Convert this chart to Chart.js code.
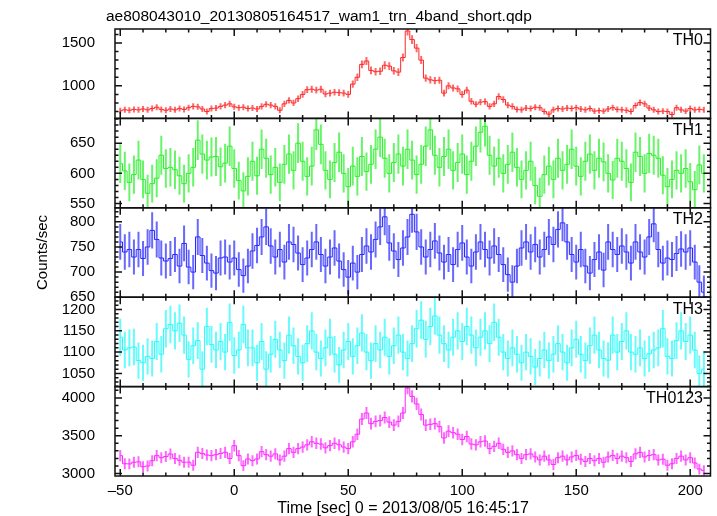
<!DOCTYPE html>
<html>
<head>
<meta charset="utf-8">
<script src="https://cdn.jsdelivr.net/npm/chart.js@4.4.0/dist/chart.umd.min.js"></script>
<style>
  html, body { margin: 0; padding: 0; background: #fff; }
  canvas { display: block; }
</style>
</head>
<body>
<canvas id="lc" width="717" height="516"></canvas>
<script>
const fileTitle = 'ae808043010_20130805164517_wam1_trn_4band_short.qdp';
const xTitle = 'Time [sec] 0 = 2013/08/05 16:45:17';
const yTitle = 'Counts/sec';
const bandNames = ['TH0', 'TH1', 'TH2', 'TH3', 'TH0123'];
const bandColors = ['255,40,40', '40,240,40', '40,40,255', '40,250,250', '255,40,255'];

// light curve bins: center of first bin and bin width [sec]
const binStart = -50;
const binWidth = 2;
const exposure = 0.6; // for poisson error bars

const th0 = [
  710, 720, 715, 725, 720, 730, 720, 735, 750, 725,
  715, 730, 720, 735, 725, 745, 760, 755, 730, 700,
  735, 740, 760, 775, 790, 755, 745, 750, 735, 740,
  730, 760, 785, 775, 760, 715, 790, 830, 800, 850,
  900, 955, 960, 950, 960, 905, 915, 925, 920, 915,
  900, 1020, 1100, 1250, 1290, 1180, 1165, 1170, 1240, 1230,
  1175, 1160, 1330, 1640, 1540, 1440, 1300, 1090, 1070, 1060,
  1065, 915, 1000, 975, 965, 900, 950, 820, 785, 810,
  815, 760, 790, 875, 840, 775, 760, 725, 720, 740,
  735, 750, 745, 700, 670, 720, 735, 730, 740, 735,
  745, 730, 720, 735, 705, 710, 705, 730, 745, 725,
  720, 715, 700, 770, 805, 790, 740, 720, 700, 705,
  700, 665, 745, 720, 705, 735, 720, 725, 720
];
const th1 = [
  616, 604, 585, 598, 622, 590, 567, 583, 592, 630,
  608, 610, 606, 596, 583, 600, 610, 655, 632, 622,
  627, 628, 611, 617, 645, 608, 588, 571, 595, 620,
  596, 640, 625, 598, 610, 585, 615, 632, 605, 650,
  620, 595, 612, 672, 648, 605, 590, 618, 635, 600,
  578, 612, 595, 628, 603, 615, 640, 660, 625, 600,
  618, 632, 612, 640, 622, 598, 615, 645, 672, 630,
  610, 628, 640, 605, 618, 632, 598, 620, 645, 668,
  678, 630, 612, 625, 600, 615, 635, 610, 590, 605,
  620, 580, 562, 598, 612, 590, 625, 605, 615, 640,
  612, 595, 620, 632, 605, 625, 619, 600, 589, 625,
  620, 608, 585, 635, 628, 600, 633, 630, 625, 597,
  578, 590, 605, 600, 608, 586, 573, 614, 600
];
const th2 = [
  760, 740, 745, 730, 745, 727, 750, 783, 765, 728,
  722, 727, 735, 712, 757, 710, 700, 770, 733, 718,
  703, 698, 728, 730, 720, 728, 705, 693, 712, 742,
  753, 770, 790, 752, 730, 745, 720, 760, 755, 738,
  715, 728, 745, 760, 735, 712, 730, 748, 722, 705,
  690, 718, 700, 735, 752, 740, 765, 790, 810, 758,
  742, 725, 748, 770, 815, 780, 750, 730, 745, 762,
  738, 720, 735, 715, 745, 758, 730, 712, 740, 760,
  745, 728, 752, 735, 715, 695, 680, 712, 748, 760,
  740, 755, 730, 745, 770, 755, 785, 798, 760, 735,
  720, 745, 712, 698, 725, 740, 704, 760, 745, 735,
  752, 740, 718, 760, 740, 730, 770, 796, 745, 718,
  728, 725, 737, 746, 740, 748, 720, 680, 660
];
const th3 = [
  1135, 1105, 1110, 1112, 1080, 1075, 1090, 1085, 1125, 1095,
  1155, 1165, 1150, 1168, 1140, 1083, 1115, 1127, 1060, 1160,
  1118, 1105, 1125, 1100, 1170, 1092, 1105, 1165, 1110, 1110,
  1075, 1125, 1060, 1095, 1130, 1105, 1080, 1140, 1115, 1090,
  1075, 1120, 1150, 1100, 1085, 1110, 1135, 1095, 1070, 1105,
  1125, 1090, 1115, 1145, 1100, 1080, 1120, 1105, 1135, 1090,
  1115, 1140, 1100, 1085, 1120, 1155, 1175, 1130, 1160, 1185,
  1140, 1120, 1105, 1135, 1150, 1125, 1160, 1140, 1110, 1135,
  1150, 1120, 1170, 1135, 1100, 1085, 1110, 1095, 1075, 1100,
  1090, 1065, 1085, 1105, 1080, 1095, 1120, 1100, 1075, 1110,
  1130, 1095, 1080, 1115, 1140, 1105, 1085, 1081, 1140, 1100,
  1125, 1150, 1100, 1095, 1110, 1085, 1096, 1105, 1110, 1155,
  1090, 1085, 1127, 1150, 1125, 1140, 1105, 1050, 1060
];
const th0123 = [
  3237, 3130, 3128, 3150, 3155, 3090, 3100, 3170, 3237, 3210,
  3225, 3259, 3200, 3175, 3150, 3150, 3110, 3281, 3265, 3245,
  3237, 3250, 3265, 3281, 3200, 3368, 3237, 3105, 3193, 3171,
  3193, 3290, 3250, 3230, 3260, 3180, 3230, 3330, 3280, 3330,
  3350, 3380, 3420, 3400, 3390, 3340, 3370, 3400, 3380, 3350,
  3330, 3420, 3520, 3720, 3800, 3660, 3690, 3700, 3740, 3680,
  3640, 3690, 3800, 4130, 4020, 3920, 3780, 3640, 3650, 3660,
  3620, 3470, 3560, 3540, 3520, 3450, 3490, 3390, 3380, 3420,
  3430, 3330, 3360, 3400, 3320, 3280, 3300, 3250, 3200, 3250,
  3260, 3220, 3180, 3230, 3180, 3120, 3210, 3230, 3180, 3220,
  3240, 3190, 3160, 3200, 3170, 3200, 3150, 3220, 3240, 3200,
  3230, 3210, 3160, 3260, 3280, 3220, 3240, 3250, 3180, 3190,
  3110, 3130, 3200, 3230, 3180, 3210, 3140, 3060, 3040
];
const bandValues = [th0, th1, th2, th3, th0123];

// axis ranges and ticks
const xRange = [-52.3, 208.9];
const xTickValues = [-50, 0, 50, 100, 150, 200];
const yRanges = [[620, 1663], [543, 691], [650, 828], [1019, 1229], [2968, 4149]];
const yTickValues = [
  [1000, 1500],
  [550, 600, 650],
  [650, 700, 750, 800],
  [1050, 1100, 1150, 1200],
  [3000, 3500, 4000]
];
const yMajorStep = [500, 50, 50, 50, 500];
const yMinorStep = [100, 10, 10, 10, 100];

const fontFamily = '"Liberation Sans", Arial, Helvetica, sans-serif';
const axisId = i => 'y' + i;

const datasets = bandValues.map((vals, i) => ({
  label: bandNames[i],
  yAxisID: axisId(i),
  data: vals.map((v, k) => ({ x: binStart + k * binWidth, y: v, err: Math.sqrt(v / exposure) })),
  borderColor: 'rgb(' + bandColors[i] + ')',
  errColor: 'rgba(' + bandColors[i] + ',0.7)',
  borderWidth: 1,
  stepped: 'middle',
  pointRadius: 0,
  fill: false
}));

function bandAxis(i) {
  return {
    type: 'linear',
    position: 'left',
    stack: 'bands',
    stackWeight: 1,
    min: yRanges[i][0],
    max: yRanges[i][1],
    grid: { display: false, drawTicks: false },
    border: { display: false },
    afterBuildTicks: s => { s.ticks = yTickValues[i].map(v => ({ value: v })); },
    afterFit: s => { s.width = 115; },
    ticks: {
      autoSkip: false,
      padding: 20,
      color: '#000',
      font: { family: fontFamily, size: 15 },
      callback: v => String(v)
    }
  };
}

const scales = {
  x: {
    type: 'linear',
    min: xRange[0],
    max: xRange[1],
    grid: { display: false, drawTicks: false },
    border: { display: false },
    afterBuildTicks: s => { s.ticks = xTickValues.map(v => ({ value: v })); },
    afterFit: s => { s.height = 40; },
    ticks: {
      autoSkip: false,
      maxRotation: 0,
      padding: 6,
      color: '#000',
      font: { family: fontFamily, size: 15 },
      callback: v => (v < 0 ? '\u2013' + Math.abs(v) : String(v))
    }
  }
};
// stacked axes are laid out bottom-up in definition order, so add the last band first
for (let i = bandNames.length - 1; i >= 0; i--) scales[axisId(i)] = bandAxis(i);

// clip each band to its own panel, draw error bars, frames, inward ticks and labels
const panelPlugin = {
  id: 'panelPlugin',
  beforeDatasetDraw(chart, args) {
    const ds = chart.data.datasets[args.index];
    const ys = chart.scales[ds.yAxisID];
    const ctx = chart.ctx;
    const area = chart.chartArea;
    ctx.save();
    ctx.beginPath();
    ctx.rect(area.left, ys.top, area.right - area.left, ys.bottom - ys.top);
    ctx.clip();
    ctx.strokeStyle = ds.errColor;
    ctx.lineWidth = 2;
    ctx.beginPath();
    args.meta.data.forEach((pt, k) => {
      const d = ds.data[k];
      ctx.moveTo(pt.x, ys.getPixelForValue(d.y + d.err));
      ctx.lineTo(pt.x, ys.getPixelForValue(d.y - d.err));
    });
    ctx.stroke();
  },
  afterDatasetDraw(chart) {
    chart.ctx.restore();
  },
  afterDraw(chart) {
    const ctx = chart.ctx;
    const area = chart.chartArea;
    const xs = chart.scales.x;
    ctx.save();
    ctx.strokeStyle = '#111';
    ctx.lineWidth = 1.5;
    bandNames.forEach((name, i) => {
      const ys = chart.scales[axisId(i)];
      ctx.strokeRect(area.left, ys.top, area.right - area.left, ys.bottom - ys.top);
      ctx.beginPath();
      // x ticks on top and bottom of each panel
      for (let v = Math.ceil(xRange[0] / 10) * 10; v <= xRange[1]; v += 10) {
        const px = xs.getPixelForValue(v);
        const len = v % 50 === 0 ? 7 : 3.5;
        ctx.moveTo(px, ys.top); ctx.lineTo(px, ys.top + len);
        ctx.moveTo(px, ys.bottom); ctx.lineTo(px, ys.bottom - len);
      }
      // y ticks on left and right
      const [lo, hi] = yRanges[i];
      for (let v = Math.ceil(lo / yMinorStep[i]) * yMinorStep[i]; v <= hi; v += yMinorStep[i]) {
        const py = ys.getPixelForValue(v);
        const len = v % yMajorStep[i] === 0 ? 7 : 3.5;
        ctx.moveTo(area.left, py); ctx.lineTo(area.left + len, py);
        ctx.moveTo(area.right, py); ctx.lineTo(area.right - len, py);
      }
      ctx.stroke();
      ctx.fillStyle = '#000';
      ctx.font = '16px ' + fontFamily;
      ctx.textAlign = 'right';
      ctx.textBaseline = 'top';
      ctx.fillText(name, 703, ys.top + 4);
    });
    ctx.fillStyle = '#000';
    ctx.font = '15.5px ' + fontFamily;
    ctx.textAlign = 'left';
    ctx.textBaseline = 'alphabetic';
    ctx.fillText(fileTitle, 106, 21);
    ctx.textAlign = 'center';
    ctx.font = '16px ' + fontFamily;
    ctx.fillText(xTitle, 403, 513);
    ctx.translate(47, (area.top + area.bottom) / 2);
    ctx.rotate(-Math.PI / 2);
    ctx.font = '15px ' + fontFamily;
    ctx.fillText(yTitle, 0, 0);
    ctx.restore();
  }
};

const lcChart = new Chart(document.getElementById('lc').getContext('2d'), {
  type: 'line',
  data: { datasets },
  options: {
    responsive: false,
    animation: false,
    layout: { padding: { top: 27, right: 6.5, left: 0, bottom: 0 } },
    plugins: { legend: { display: false }, tooltip: { enabled: false } },
    scales
  },
  plugins: [panelPlugin]
});
</script>
</body>
</html>
